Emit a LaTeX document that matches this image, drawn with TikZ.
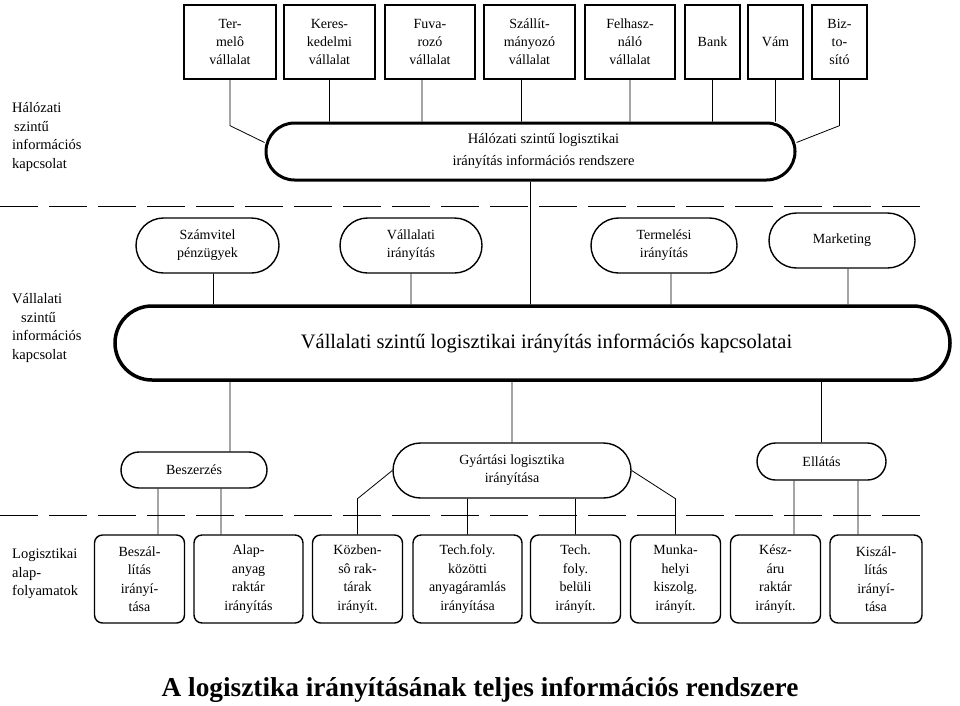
\documentclass[tikz,border=0pt]{standalone}
\usepackage{fontspec}
\setmainfont{Liberation Serif}
\usepackage{tikz}
\usetikzlibrary{shapes.misc, positioning, calc}

\begin{document}
\begin{tikzpicture}[x=1pt, y=-1pt,
    topbox/.style={draw, line width=1.3pt, minimum height=74pt, inner sep=0pt, align=center, font=\fontsize{14}{18}\selectfont},
    midbox/.style={draw, rounded rectangle, line width=1.4pt, minimum height=55pt, inner sep=0pt, align=center, font=\fontsize{14}{18}\selectfont},
    hub/.style={draw, rounded rectangle, line width=3pt, inner sep=0pt, align=center},
    botbox/.style={draw, rounded corners=8pt, line width=1.4pt, minimum width=90pt, minimum height=88pt, inner sep=0pt, align=center, font=\fontsize{14}{18.5}\selectfont},
    lvl/.style={anchor=west, align=left, inner sep=0pt, font=\fontsize{14.5}{18.5}\selectfont},
    sep/.style={line width=0.9pt, dash pattern=on 38pt off 11pt},
    conn/.style={line width=0.8pt}]
                        \useasboundingbox (0,0) rectangle (960,705);

                        \draw[sep] (0,206) -- (922,206);
                        \draw[sep] (0,515) -- (922,515);

                        \node[lvl] (lev1) at (12,137) {Hálózati\\\hspace*{2pt}szintű\\információs\\kapcsolat};
                        \node[lvl] (lev2) at (12,328) {Vállalati\\\hspace*{9pt}szintű\\információs\\kapcsolat};
                        \node[lvl] (lev3) at (12,574) {Logisztikai\\alap-\\folyamatok};

                        \node[topbox, minimum width=92pt] (termelo) at (230,42) {Ter-\\melô\\vállalat};
                        \node[topbox, minimum width=91pt] (keres) at (329.5,42) {Keres-\\kedelmi\\vállalat};
                        \node[topbox, minimum width=90pt] (fuva) at (430,42) {Fuva-\\rozó\\vállalat};
                        \node[topbox, minimum width=91pt] (szallit) at (529.5,42) {Szállít-\\mányozó\\vállalat};
                        \node[topbox, minimum width=90pt] (felhasz) at (630,42) {Felhasz-\\náló\\vállalat};
                        \node[topbox, minimum width=55pt] (bank) at (712.5,42) {Bank};
                        \node[topbox, minimum width=55pt] (vam) at (775.5,42) {Vám};
                        \node[topbox, minimum width=55pt] (bizt) at (839.5,42) {Biz-\\to-\\sító};

                        \node[hub, minimum width=529pt, minimum height=57pt,
                            label={[xshift=13pt, align=center, font=\fontsize{14.5}{22}\selectfont]center:Hálózati szintű logisztikai\\irányítás információs rendszere}] (halozat) at (530.5,151.5) {};

                        \node[midbox, minimum width=143pt] (szamvitel) at (207.5,245.5) {Számvitel\\pénzügyek};
                        \node[midbox, minimum width=142pt] (vallir) at (411,245.5) {Vállalati\\irányítás};
                        \node[midbox, minimum width=146pt] (termir) at (664,245.5) {Termelési\\irányítás};
                        \node[midbox, minimum width=146pt] (marketing) at (842,240.5) {Marketing};

                        \node[hub, line width=3.5pt, minimum width=835pt, minimum height=74pt,
                            label={[xshift=14pt, font=\fontsize{20.5}{24}\selectfont]center:Vállalati szintű logisztikai irányítás információs kapcsolatai}] (vallalat) at (532.5,343) {};

                        \node[midbox, minimum width=146pt, minimum height=36pt] (beszerzes) at (194,470) {Beszerzés};
                        \node[midbox, minimum width=238pt] (gyartas) at (512,470.5) {Gyártási logisztika\\irányítása};
                        \node[midbox, minimum width=129pt, minimum height=37pt] (ellatas) at (821.5,461.5) {Ellátás};

                        \node[botbox] (beszall) at (139.5,579) {Beszál-\\lítás\\irányí-\\tása};
                        \node[botbox, minimum width=109pt] (alapany) at (248.5,579) {Alap-\\anyag\\raktár\\irányítás};
                        \node[botbox] (kozben) at (357.5,579) {Közben-\\sô rak-\\tárak\\irányít.};
                        \node[botbox, minimum width=109pt] (techkoz) at (467.5,579) {Tech.foly.\\közötti\\anyagáramlás\\irányítása};
                        \node[botbox] (techbel) at (575.5,579) {Tech.\\foly.\\belüli\\irányít.};
                        \node[botbox] (munkahely) at (675.5,579) {Munka-\\helyi\\kiszolg.\\irányít.};
                        \node[botbox] (keszaru) at (775.5,579) {Kész-\\áru\\raktár\\irányít.};
                        \node[botbox, minimum width=92pt] (kiszall) at (876,579) {Kiszál-\\lítás\\irányí-\\tása};

                        \node[font=\fontsize{27.3}{31}\selectfont\bfseries] (cim) at (480,690) {A logisztika irányításának teljes információs rendszere};

                        \draw[conn]
                        (termelo.south) -- ++(0,46) -- ([yshift=9pt]halozat.west)
                        (keres.south) -- (keres.south |- halozat.north)
                        ([xshift=-8pt]fuva.south) -- ([xshift=-8pt]fuva.south |- halozat.north)
                        ([xshift=-8pt]szallit.south) -- ([xshift=-8pt]szallit.south |- halozat.north)
                        (felhasz.south) -- (felhasz.south |- halozat.north)
                        (bank.south) -- (bank.south |- halozat.north)
                        (vam.south) -- (vam.south |- halozat.north)
                        (bizt.south) -- ++(0,46) -- ([yshift=9pt]halozat.east)

                        (halozat.south) -- (halozat.south |- vallalat.north)
                        ([xshift=6pt]szamvitel.south) -- ([xshift=6pt]szamvitel.south |- vallalat.north)
                        (vallir.south) -- (vallir.south |- vallalat.north)
                        ([xshift=7pt]termir.south) -- ([xshift=7pt]termir.south |- vallalat.north)
                        ([xshift=6pt]marketing.south) -- ([xshift=6pt]marketing.south |- vallalat.north)

                        ([xshift=36pt]beszerzes.north) -- ([xshift=36pt]beszerzes.north |- vallalat.south)
                        (gyartas.north) -- (gyartas.north |- vallalat.south)
                        (ellatas.north) -- (ellatas.north |- vallalat.south)

                        ([xshift=-36pt]beszerzes.south) -- ([xshift=-36pt]beszerzes.south |- beszall.north)
                        ([xshift=27pt]beszerzes.south) -- ([xshift=27pt]beszerzes.south |- alapany.north)
                        (gyartas.west) -- (kozben.north |- gyartas.south) -- (kozben.north)
                        (techkoz.north |- gyartas.south) -- (techkoz.north)
                        (techbel.north |- gyartas.south) -- (techbel.north)
                        (gyartas.east) -- (munkahely.north |- gyartas.south) -- (munkahely.north)
                        ([xshift=-27.5pt]ellatas.south) -- ([xshift=-27.5pt]ellatas.south |- keszaru.north)
                        ([xshift=36.5pt]ellatas.south) -- ([xshift=36.5pt]ellatas.south |- kiszall.north);
                    \end{tikzpicture}
\end{document}
